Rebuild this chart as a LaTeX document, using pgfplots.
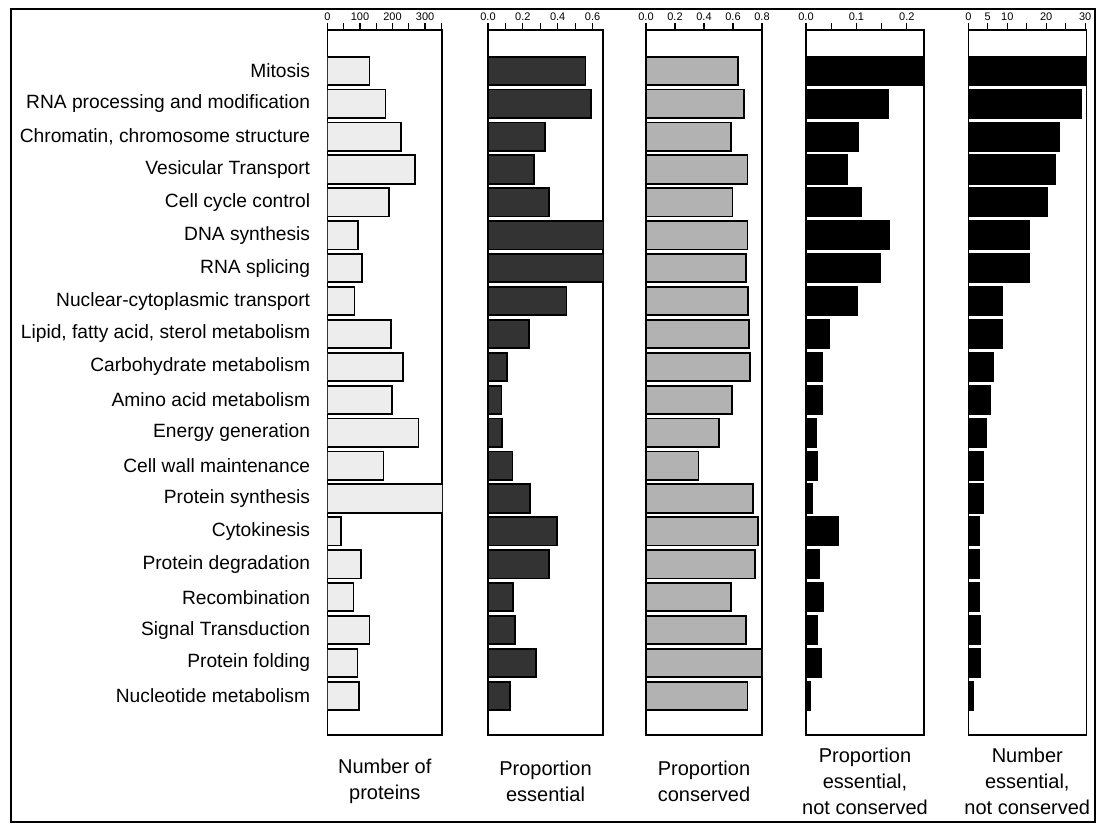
\documentclass[border=0pt]{standalone}
\usepackage{pgfplots}
\pgfplotsset{compat=1.18}
\usepackage{pgfplotstable}
\usepackage{fontspec}
\setmainfont{Liberation Sans}

% idx: category (1 = top), n: number of proteins, pess: proportion essential,
% pcons: proportion conserved, pencn: proportion essential not conserved,
% nencn: number essential not conserved
\pgfplotstableread{
idx n   pess  pcons pencn nencn
1   129 0.56  0.634 0.25  31
2   178 0.59  0.678 0.162 29
3   226 0.325 0.585 0.103 23.3
4   270 0.262 0.700 0.081 22.4
5   190 0.35  0.597 0.109 20.3
6   93  0.70  0.700 0.164 15.5
7   105 0.70  0.690 0.147 15.5
8   83  0.45  0.705 0.101 8.6
9   195 0.233 0.712 0.046 8.6
10  231 0.109 0.715 0.031 6.4
11  199 0.077 0.595 0.032 5.7
12  280 0.082 0.503 0.020 4.5
13  172 0.14  0.362 0.021 3.7
14  360 0.243 0.738 0.013 3.7
15  41  0.397 0.770 0.063 2.8
16  102 0.35  0.754 0.026 2.8
17  80  0.144 0.588 0.034 2.8
18  129 0.155 0.690 0.022 2.9
19  92  0.274 0.800 0.029 2.9
20  97  0.128 0.700 0.009 1.1
}\data

\pgfplotsset{
  panel/.style={
    scale only axis, height=352.5pt, anchor=north west,
    y dir=reverse, ymin=-0.24, ymax=21.19,
    ytick=\empty, ytick pos=left, yticklabel pos=left,
    ytick style={draw=none},
    xmin=0, xtick pos=right, xticklabel pos=right, tick align=outside,
    major tick length=3.5pt, minor tick length=3.5pt,
    every tick/.style={black, line width=0.6pt},
    /pgf/number format/assume math mode=true,
    xticklabel style={font=\fontsize{5.5}{6}\selectfont, inner sep=1pt},
    axis line style={line width=0.8pt},
    xlabel style={at={(axis description cs:0.5,0)}, anchor=center,
      yshift=-23pt, align=center, font=\fontsize{10}{13}\selectfont},
    xbar, bar width=0.86, bar shift=0pt,
    scaled x ticks=false,
  },
}

\begin{document}
\begin{tikzpicture}
\useasboundingbox (0,0) rectangle (550.5pt,-414pt);
\draw[line width=1.3pt] (5.5pt,-4.5pt) rectangle (547.5pt,-411pt);

% Number of proteins
\begin{axis}[panel, at={(163.75pt,-15pt)}, width=57.25pt,
    xmax=352, xtick={0,100,200,300}, minor xtick={50,150,250,350},
    ytick={1,...,20},
    yticklabels={Mitosis, RNA processing and modification,
      {Chromatin, chromosome structure}, Vesicular Transport,
      Cell cycle control, DNA synthesis, RNA splicing,
      Nuclear-cytoplasmic transport,
      {Lipid, fatty acid, sterol metabolism}, Carbohydrate metabolism,
      Amino acid metabolism, Energy generation, Cell wall maintenance,
      Protein synthesis, Cytokinesis, Protein degradation, Recombination,
      Signal Transduction, Protein folding, Nucleotide metabolism},
    yticklabel style={font=\fontsize{9.6}{12}\selectfont, inner sep=0pt, xshift=-5pt},
    xlabel={Number of\\proteins}]
\addplot[draw=black, line width=0.9pt, fill=black!7] table[x=n, y=idx] {\data};
\end{axis}

% Proportion essential
\begin{axis}[panel, at={(244pt,-15pt)}, width=57.5pt,
    xmax=0.66, xtick={0,0.2,0.4,0.6}, xticklabels={0.0,0.2,0.4,0.6},
    minor xtick={0.1,0.3,0.5},
    xlabel={Proportion\\essential}]
\addplot[draw=black, line width=0.9pt, fill=black!80] table[x=pess, y=idx] {\data};
\end{axis}

% Proportion conserved
\begin{axis}[panel, at={(323pt,-15pt)}, width=58pt,
    xmax=0.8, xtick={0,0.2,0.4,0.6,0.8}, xticklabels={0.0,0.2,0.4,0.6,0.8},
    xlabel={Proportion\\conserved}]
\addplot[draw=black, line width=0.9pt, fill=black!30] table[x=pcons, y=idx] {\data};
\end{axis}

% Proportion essential, not conserved
\begin{axis}[panel, at={(403pt,-15pt)}, width=59pt,
    xmax=0.234, xtick={0,0.1,0.2}, xticklabels={0.0,0.1,0.2},
    minor xtick={0.05,0.15},
    xlabel={Proportion\\essential,\\not conserved}]
\addplot[draw=black, line width=0.9pt, fill=black] table[x=pencn, y=idx] {\data};
\end{axis}

% Number essential, not conserved
\begin{axis}[panel, at={(484.15pt,-15pt)}, width=59pt,
    xmax=30.3, xtick={0,5,10,20,30}, minor xtick={15,25},
    xlabel={Number\\essential,\\not conserved}]
\addplot[draw=black, line width=0.9pt, fill=black] table[x=nencn, y=idx] {\data};
\end{axis}
\end{tikzpicture}
\end{document}
